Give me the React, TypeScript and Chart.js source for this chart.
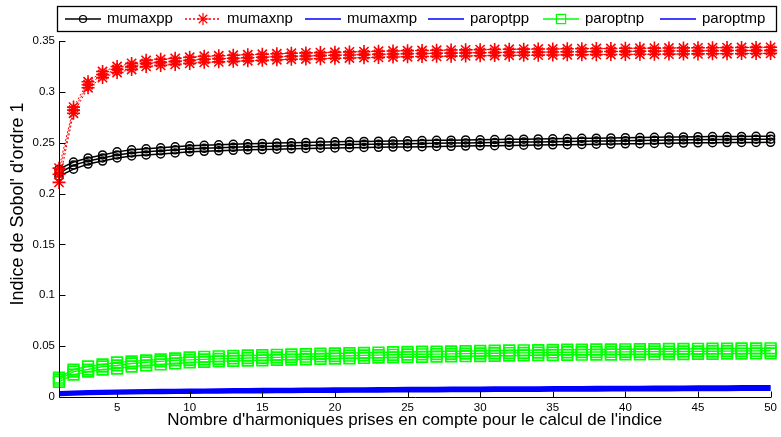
import { useEffect, useRef } from 'react';
import { Chart, registerables } from 'chart.js';

Chart.register(...registerables);

// ---------- data ----------
const harmonics = [
  1, 2, 3, 4, 5, 6, 7, 8, 9, 10, 11, 12, 13, 14, 15, 16, 17, 18, 19, 20, 21, 22, 23, 24, 25,
  26, 27, 28, 29, 30, 31, 32, 33, 34, 35, 36, 37, 38, 39, 40, 41, 42, 43, 44, 45, 46, 47, 48, 49, 50,
];

// mumaxpp bundle (black, circles)
const mumaxppHigh = [0.224,0.231,0.235,0.238,0.241,0.243,0.244,0.245,0.246,0.247,0.2475,0.248,0.2485,0.249,0.2493,0.2496,0.25,0.2503,0.2506,0.2509,0.2511,0.2513,0.2515,0.2517,0.2519,0.2521,0.2523,0.2525,0.2527,0.2529,0.2531,0.2533,0.2535,0.2537,0.2539,0.2541,0.2543,0.2545,0.2547,0.2549,0.2551,0.2553,0.2555,0.2557,0.2559,0.256,0.2561,0.2562,0.2563,0.2564];
const mumaxpp = [0.22,0.228,0.232,0.235,0.238,0.24,0.241,0.242,0.243,0.244,0.2445,0.245,0.2455,0.246,0.2463,0.2466,0.247,0.2473,0.2476,0.248,0.2482,0.2484,0.2486,0.2488,0.249,0.2492,0.2494,0.2496,0.2498,0.25,0.2502,0.2504,0.2506,0.2508,0.251,0.2512,0.2514,0.2516,0.2518,0.252,0.2522,0.2524,0.2526,0.2528,0.253,0.2531,0.2532,0.2533,0.2534,0.2535];
const mumaxppLow = [0.217,0.224,0.229,0.232,0.235,0.237,0.238,0.239,0.24,0.241,0.2415,0.242,0.2425,0.243,0.2433,0.2436,0.244,0.2443,0.2446,0.2449,0.2451,0.2453,0.2455,0.2457,0.2459,0.2461,0.2463,0.2465,0.2467,0.2469,0.2471,0.2473,0.2475,0.2477,0.2479,0.2481,0.2483,0.2485,0.2487,0.2489,0.2491,0.2493,0.2495,0.2497,0.2499,0.25,0.2501,0.2502,0.2503,0.2504];

// mumaxnp bundle (red, stars, dotted)
const mumaxnpHigh = [0.225,0.285,0.31,0.32,0.325,0.328,0.331,0.332,0.333,0.334,0.335,0.3355,0.336,0.3365,0.337,0.3375,0.338,0.3383,0.3386,0.339,0.3393,0.3396,0.3399,0.3402,0.3405,0.3407,0.3409,0.3411,0.3413,0.3415,0.3417,0.3419,0.342,0.3421,0.3422,0.3424,0.3425,0.3426,0.3427,0.3428,0.3429,0.343,0.3431,0.3432,0.3433,0.3434,0.3435,0.3436,0.3437,0.3438];
const mumaxnp = [0.219,0.282,0.307,0.317,0.322,0.325,0.328,0.329,0.33,0.331,0.332,0.3325,0.333,0.3335,0.334,0.3345,0.335,0.3353,0.3356,0.336,0.3363,0.3366,0.3369,0.3372,0.3375,0.3377,0.3379,0.3381,0.3383,0.3385,0.3387,0.3389,0.339,0.3391,0.3392,0.3394,0.3395,0.3396,0.3397,0.3398,0.3399,0.34,0.3401,0.3402,0.3403,0.3404,0.3405,0.3406,0.3407,0.3408];
const mumaxnpLow = [0.211,0.279,0.304,0.314,0.319,0.322,0.325,0.326,0.327,0.328,0.329,0.3295,0.33,0.3305,0.331,0.3315,0.332,0.3323,0.3326,0.333,0.3333,0.3336,0.3339,0.3342,0.3345,0.3347,0.3349,0.3351,0.3353,0.3355,0.3357,0.3359,0.336,0.3361,0.3362,0.3364,0.3365,0.3366,0.3367,0.3368,0.3369,0.337,0.3371,0.3372,0.3373,0.3374,0.3375,0.3376,0.3377,0.3378];

// paroptnp bundle (green, squares)
const paroptnpHigh = [0.019,0.027,0.03,0.032,0.034,0.035,0.036,0.037,0.038,0.039,0.0395,0.04,0.0405,0.0408,0.0411,0.0415,0.0418,0.0421,0.0425,0.0428,0.0431,0.0434,0.0437,0.044,0.0443,0.0445,0.0447,0.0449,0.0451,0.0453,0.0455,0.0457,0.0459,0.0461,0.0463,0.0465,0.0466,0.0467,0.0468,0.0469,0.047,0.0471,0.0472,0.0473,0.0474,0.0475,0.0476,0.0477,0.0478,0.0479];
const paroptnp = [0.017,0.025,0.027,0.03,0.031,0.033,0.034,0.035,0.036,0.0365,0.037,0.0375,0.038,0.0383,0.0386,0.039,0.0393,0.0396,0.04,0.0403,0.0406,0.0409,0.0412,0.0415,0.0418,0.042,0.0422,0.0424,0.0426,0.0428,0.043,0.0432,0.0434,0.0436,0.0438,0.044,0.0441,0.0442,0.0443,0.0444,0.0445,0.0446,0.0447,0.0448,0.0449,0.045,0.0451,0.0452,0.0453,0.0454];
const paroptnpLow = [0.015,0.022,0.025,0.027,0.028,0.03,0.031,0.032,0.033,0.034,0.0345,0.035,0.0355,0.0358,0.0361,0.0365,0.0368,0.0371,0.0375,0.0378,0.0381,0.0384,0.0387,0.039,0.0393,0.0395,0.0397,0.0399,0.0401,0.0403,0.0405,0.0407,0.0409,0.0411,0.0413,0.0415,0.0416,0.0417,0.0418,0.0419,0.042,0.0421,0.0422,0.0423,0.0424,0.0425,0.0426,0.0427,0.0428,0.0429];

// blue lines near zero
const mumaxmp = [0.0045,0.0052,0.0056,0.0059,0.0062,0.0064,0.0066,0.0068,0.0069,0.0071,0.0072,0.0073,0.0075,0.0076,0.0077,0.0078,0.0079,0.008,0.0081,0.0082,0.0083,0.0084,0.0085,0.0086,0.0087,0.0088,0.0089,0.009,0.009,0.0091,0.0092,0.0093,0.0093,0.0094,0.0095,0.0096,0.0096,0.0097,0.0098,0.0098,0.0099,0.01,0.01,0.0101,0.0102,0.0102,0.0103,0.0104,0.0104,0.0105];
const paroptpp = [0.003,0.0037,0.0041,0.0044,0.0047,0.0049,0.0051,0.0053,0.0054,0.0056,0.0057,0.0058,0.006,0.0061,0.0062,0.0063,0.0064,0.0065,0.0066,0.0067,0.0068,0.0069,0.007,0.0071,0.0072,0.0073,0.0074,0.0075,0.0075,0.0076,0.0077,0.0078,0.0078,0.0079,0.008,0.0081,0.0081,0.0082,0.0083,0.0083,0.0084,0.0085,0.0085,0.0086,0.0087,0.0087,0.0088,0.0089,0.0089,0.009];
const paroptmp = [0.002,0.0026,0.003,0.0033,0.0035,0.0037,0.0039,0.004,0.0042,0.0043,0.0044,0.0045,0.0046,0.0047,0.0048,0.0049,0.005,0.0051,0.0052,0.0053,0.0054,0.0055,0.0055,0.0056,0.0057,0.0058,0.0058,0.0059,0.006,0.006,0.0061,0.0062,0.0062,0.0063,0.0064,0.0064,0.0065,0.0065,0.0066,0.0067,0.0067,0.0068,0.0068,0.0069,0.0069,0.007,0.007,0.0071,0.0071,0.0072];

const legendNames = ['mumaxpp', 'mumaxnp', 'mumaxmp', 'paroptpp', 'paroptnp', 'paroptmp'];
const xTickValues = [5, 10, 15, 20, 25, 30, 35, 40, 45, 50];
const yTickValues = [0, 0.05, 0.1, 0.15, 0.2, 0.25, 0.3, 0.35];
const xTitle = "Nombre d'harmoniques prises en compte pour le calcul de l'indice";
const yTitle = "Indice de Sobol' d'ordre 1";

// ---------- styles ----------
type Marker = 'none' | 'circle' | 'star' | 'rect';
interface LineStyle { color: string; dash: number[]; width: number; marker: Marker; radius: number; pw: number }
const STY: Record<string, LineStyle> = {
  black: { color: '#000000', dash: [], width: 1.5, marker: 'circle', radius: 4, pw: 1.5 },
  red: { color: '#ff0000', dash: [2, 2], width: 1, marker: 'star', radius: 6.5, pw: 1.6 },
  blue: { color: '#0000ff', dash: [], width: 2.6, marker: 'none', radius: 0, pw: 0 },
  green: { color: '#00ff00', dash: [], width: 1.4, marker: 'rect', radius: 7.5, pw: 1.7 },
};
const legendStyles = ['black', 'red', 'blue', 'blue', 'green', 'blue'];
const legendStarts = [65, 185, 305, 428, 543, 660];

const FONT = "'Liberation Sans', Arial, Helvetica, sans-serif";

// drawing order as in the original (later on top)
const lines: { values: number[]; style: string }[] = [
  { values: mumaxppHigh, style: 'black' },
  { values: mumaxpp, style: 'black' },
  { values: mumaxppLow, style: 'black' },
  { values: mumaxnpHigh, style: 'red' },
  { values: mumaxnp, style: 'red' },
  { values: mumaxnpLow, style: 'red' },
  { values: paroptnpHigh, style: 'green' },
  { values: paroptnp, style: 'green' },
  { values: paroptnpLow, style: 'green' },
  { values: mumaxmp, style: 'blue' },
  { values: paroptpp, style: 'blue' },
  { values: paroptmp, style: 'blue' },
];

function drawMarker(ctx: CanvasRenderingContext2D, m: Marker, x: number, y: number, r: number) {
  ctx.beginPath();
  if (m === 'circle') {
    ctx.arc(x, y, r, 0, Math.PI * 2);
  } else if (m === 'star') {
    const d = r * Math.SQRT1_2;
    ctx.moveTo(x - r, y); ctx.lineTo(x + r, y);
    ctx.moveTo(x, y - r); ctx.lineTo(x, y + r);
    ctx.moveTo(x - d, y - d); ctx.lineTo(x + d, y + d);
    ctx.moveTo(x - d, y + d); ctx.lineTo(x + d, y - d);
  } else if (m === 'rect') {
    const s = r * Math.SQRT1_2;
    ctx.rect(x - s, y - s, 2 * s, 2 * s);
  }
  ctx.stroke();
}

const matlabPlugin = {
  id: 'matlabDecor',
  afterDraw(chart: any) {
    const ctx: CanvasRenderingContext2D = chart.ctx;
    const area = chart.chartArea;
    const xs = chart.scales.x;
    const ys = chart.scales.y;
    ctx.save();
    // axes lines
    ctx.strokeStyle = '#000';
    ctx.lineWidth = 1;
    ctx.setLineDash([]);
    const ax = Math.round(area.left) + 0.5;
    const ay = Math.round(area.bottom) + 0.5;
    ctx.beginPath();
    ctx.moveTo(ax, area.top);
    ctx.lineTo(ax, ay);
    ctx.lineTo(area.right + 0.5, ay);
    // ticks (inward)
    for (const v of yTickValues) {
      const py = Math.round(ys.getPixelForValue(v)) + 0.5;
      ctx.moveTo(ax, py);
      ctx.lineTo(ax + 6, py);
    }
    for (const v of xTickValues) {
      const px = Math.round(xs.getPixelForValue(v)) + 0.5;
      ctx.moveTo(px, ay);
      ctx.lineTo(px, ay - 6);
    }
    ctx.stroke();

    // y title
    ctx.save();
    ctx.translate(18, 204);
    ctx.rotate(-Math.PI / 2);
    ctx.font = `18px ${FONT}`;
    ctx.fillStyle = '#000';
    ctx.textAlign = 'center';
    ctx.textBaseline = 'middle';
    ctx.fillText(yTitle, 0, 0);
    ctx.restore();

    // legend
    const boxL = 57.5, boxT = 6.5, boxR = 776.5, boxB = 31.5;
    ctx.fillStyle = '#fff';
    ctx.fillRect(boxL, boxT, boxR - boxL, boxB - boxT);
    ctx.strokeStyle = '#000';
    ctx.lineWidth = 1.3;
    ctx.strokeRect(boxL, boxT, boxR - boxL, boxB - boxT);
    ctx.font = `15px ${FONT}`;
    ctx.textBaseline = 'middle';
    ctx.textAlign = 'left';
    const cy = 19;
    legendNames.forEach((name, i) => {
      const sx = legendStarts[i];
      const st = STY[legendStyles[i]];
      ctx.strokeStyle = st.color;
      ctx.lineWidth = 1.5;
      ctx.setLineDash(st.dash);
      ctx.beginPath();
      ctx.moveTo(sx, cy);
      ctx.lineTo(sx + 36, cy);
      ctx.stroke();
      ctx.setLineDash([]);
      ctx.lineWidth = 1.2;
      if (st.marker === 'circle') drawMarker(ctx, 'circle', sx + 18, cy, 3.5);
      if (st.marker === 'star') drawMarker(ctx, 'star', sx + 18, cy, 6);
      if (st.marker === 'rect') drawMarker(ctx, 'rect', sx + 18, cy, 6.5);
      ctx.fillStyle = '#000';
      ctx.fillText(name, sx + 42, cy);
    });
    ctx.restore();
  },
};

export default function App() {
  const ref = useRef<HTMLCanvasElement>(null);
  useEffect(() => {
    const datasets = lines.map((ln, i) => {
      const st = STY[ln.style];
      return {
        label: ln.style + i,
        data: harmonics.map((h, k) => ({ x: h, y: ln.values[k] })),
        borderColor: st.color,
        borderWidth: st.width,
        borderDash: st.dash,
        backgroundColor: 'rgba(0,0,0,0)',
        fill: false,
        tension: 0,
        pointStyle: st.marker === 'none' ? false : st.marker,
        pointRadius: st.radius,
        pointHoverRadius: st.radius,
        pointBorderColor: st.color,
        pointBackgroundColor: 'rgba(0,0,0,0)',
        pointBorderWidth: st.pw,
        clip: false as any,
        order: -i,
      };
    });
    const chart = new Chart(ref.current as HTMLCanvasElement, {
      type: 'line',
      data: { datasets: datasets as any },
      plugins: [matlabPlugin as any],
      options: {
        animation: false,
        responsive: false,
        events: [],
        layout: { padding: { top: 41, right: 5.5, left: 0, bottom: 0 } },
        plugins: { legend: { display: false }, tooltip: { enabled: false }, title: { display: false } },
        scales: {
          x: {
            type: 'linear',
            min: 1,
            max: 50,
            afterFit: (s: any) => { s.height = 40; },
            afterBuildTicks: (s: any) => { s.ticks = xTickValues.map((v) => ({ value: v })); },
            grid: { display: false, drawTicks: false },
            border: { display: false },
            ticks: {
              padding: 4,
              color: '#000',
              font: { family: FONT, size: 11.5 },
              maxRotation: 0,
              autoSkip: false,
              callback: (v: any) => String(v),
            },
            title: {
              display: true,
              text: xTitle,
              color: '#000',
              font: { family: FONT, size: 17 },
              padding: { top: 0, bottom: 6 },
            },
          },
          y: {
            type: 'linear',
            min: 0,
            max: 0.35,
            afterFit: (s: any) => { s.width = 59; },
            afterBuildTicks: (s: any) => { s.ticks = yTickValues.map((v) => ({ value: v })); },
            grid: { display: false, drawTicks: false },
            border: { display: false },
            ticks: {
              padding: 4,
              color: '#000',
              font: { family: FONT, size: 11.5 },
              autoSkip: false,
              callback: (v: any) => String(Number(Number(v).toFixed(2))),
            },
            title: { display: false },
          },
        },
      },
    });
    return () => chart.destroy();
  }, []);
  return (
    <div style={{ position: 'absolute', left: 0, top: 0, width: 781, height: 437, background: '#fff' }}>
      <canvas ref={ref} width={781} height={437} style={{ display: 'block' }} />
    </div>
  );
}
